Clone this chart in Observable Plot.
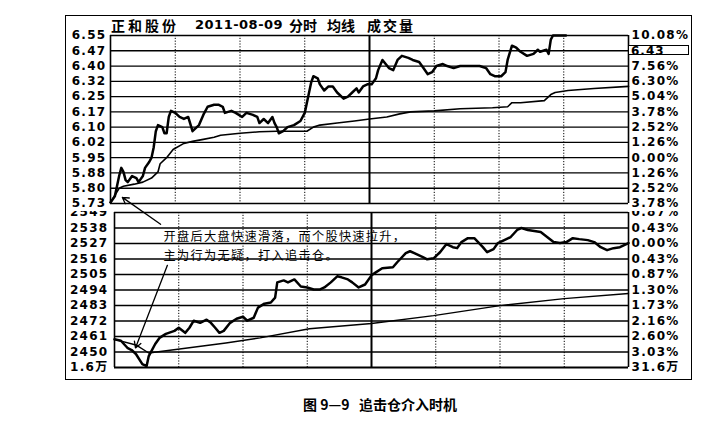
<!DOCTYPE html>
<html><head><meta charset="utf-8">
<script src="https://cdn.jsdelivr.net/npm/d3@7"></script>
<script src="https://cdn.jsdelivr.net/npm/@observablehq/plot@0.6"></script>
<style>
html,body{margin:0;padding:0;background:#fff;}
#wrap{position:relative;width:721px;height:432px;overflow:hidden;}
#frame{position:absolute;left:65px;top:15px;width:625px;height:363px;border:1.5px solid #000;}
#topPlot{position:absolute;left:0;top:0;z-index:3;}
#botPlot{position:absolute;left:0;top:211px;width:721px;height:165px;overflow:hidden;z-index:2;}
svg text{letter-spacing:1.3px;}
.t{position:absolute;top:17px;font:bold 14px/16px "Noto Sans CJK SC","DejaVu Sans",sans-serif;color:#000;white-space:nowrap;z-index:4;}
#box{position:absolute;left:628px;top:45px;width:61px;height:10px;border:1px solid #000;background:#fff;z-index:4;
 font:bold 12px/10px "DejaVu Sans",sans-serif;letter-spacing:1px;padding-left:2px;box-sizing:border-box;}
#caption{position:absolute;left:303px;top:395px;font:bold 14px/18px "Noto Sans CJK SC",sans-serif;white-space:pre;color:#000;}
</style>
</head><body>
<div id="wrap">
  <div id="frame"></div>
  <div id="botPlot"></div>
  <div id="topPlot"></div>
  <span class="t" style="left:111px;letter-spacing:3px">正和股份</span>
  <span class="t" style="left:195px;font-family:'DejaVu Sans';font-size:13px;letter-spacing:0.5px">2011-08-09</span>
  <span class="t" style="left:289px">分时</span>
  <span class="t" style="left:327px">均线</span>
  <span class="t" style="left:367px;letter-spacing:2px">成交量</span>
  <div id="box">6.43</div>
  <div id="caption">图 9—9   追击仓介入时机</div>
</div>
<script>
// ---- stock (正和股份) minute data: minutes after 9:30, price ----
const priceMin = [0,2,3,4,5,6,7,8,10,12,13,15,16,18,19,20,21,22,24,25,26,27,28,30,32,34,36,38,41,43,45,48,50,52,53,56,58,61,63,66,68,69,71,73,75,76,77,78,80,82,85,88,90,91,93,94,96,97,99,101,103,105,108,110,112,114,115,117,119,121,123,124,126,129,131,133,135,138,140,143,145,147,149,151,154,156,159,162,165,168,171,174,176,178,181,183,184,186,188,190,193,196,198,199,202,203,204,205,206,211];
const priceVal = [5.73,5.76,5.81,5.86,5.90,5.88,5.84,5.83,5.86,5.85,5.83,5.86,5.90,5.93,5.95,6.00,6.08,6.11,6.10,6.07,6.07,6.15,6.18,6.17,6.15,6.14,6.15,6.08,6.11,6.16,6.20,6.21,6.21,6.20,6.17,6.18,6.17,6.15,6.17,6.16,6.15,6.12,6.14,6.12,6.15,6.12,6.10,6.07,6.08,6.10,6.11,6.13,6.17,6.22,6.32,6.35,6.34,6.31,6.28,6.30,6.30,6.27,6.24,6.25,6.27,6.29,6.27,6.30,6.31,6.31,6.34,6.38,6.43,6.39,6.38,6.43,6.45,6.44,6.43,6.42,6.39,6.36,6.37,6.40,6.41,6.40,6.39,6.40,6.40,6.40,6.40,6.39,6.36,6.35,6.35,6.37,6.43,6.50,6.49,6.47,6.45,6.46,6.48,6.47,6.48,6.46,6.53,6.55,6.55,6.55];
// average price line
const avgMin = [0,4,6,11,15,19,22,23,26,29,34,38,43,48,51,60,69,77,91,94,97,105,113,120,128,134,139,150,162,177,184,186,190,201,204,206,212,224,240];
const avgVal = [5.73,5.80,5.81,5.82,5.83,5.85,5.88,5.92,5.95,5.99,6.02,6.03,6.04,6.05,6.06,6.07,6.077,6.08,6.08,6.10,6.11,6.12,6.13,6.14,6.15,6.165,6.175,6.18,6.19,6.195,6.20,6.22,6.22,6.23,6.26,6.27,6.28,6.29,6.30];
// ---- market index (lower panel) ----
const idxMin = [0,3,6,8,10,13,15,16,19,21,24,28,30,33,35,37,40,43,45,47,49,51,54,57,60,62,65,67,70,73,75,76,79,81,84,87,90,93,96,98,101,104,106,109,111,114,117,120,122,125,130,132,136,138,140,144,146,149,152,155,158,160,162,165,168,172,174,177,179,182,185,188,190,193,196,199,202,205,208,211,214,217,221,224,227,230,233,236,240];
const idxVal = [2459,2458,2453,2451.4,2448.6,2441.4,2440,2447.1,2455.7,2460,2462.9,2465,2467.2,2463.6,2467.2,2472.2,2470.7,2472.9,2470.7,2467.2,2463.6,2465,2470.7,2473.6,2475,2472.2,2474.3,2481.5,2484.3,2485.1,2488.6,2499.4,2500.8,2499.4,2501.5,2496.5,2495.8,2494.4,2494.4,2495.8,2499.4,2503.7,2503,2501.5,2499.4,2495.8,2497.9,2504.4,2506.5,2509.4,2510.1,2513.7,2520.1,2521.5,2520.1,2517.3,2515.8,2516.5,2520.8,2526.6,2524.4,2523.7,2528,2530.8,2530.8,2524.4,2520.8,2523,2527.3,2529.4,2531.6,2536.6,2538,2536.6,2535.9,2535.1,2531.6,2528,2527.3,2528,2530.8,2530.1,2529.4,2528,2524.4,2522.3,2523.7,2524.4,2527.3];
const idx2Min = [0,10,16,52,68,91,120,149,180,210,240];
const idx2Val = [2459,2455,2449.3,2456.4,2460,2466.5,2470.2,2475.8,2482.9,2487.9,2491.5];

// ---- axes / grid ----
const priceGrid = [6.550,6.475,6.400,6.325,6.250,6.175,6.100,6.025,5.950,5.875,5.800,5.725];
const priceLabels = ["6.55","6.47","6.40","6.32","6.25","6.17","6.10","6.02","5.95","5.88","5.80","5.73"];
const pctLabels = ["10.08%","","7.56%","6.30%","5.04%","3.78%","2.52%","1.26%","0.00%","1.26%","2.52%","3.78%"];
const idxGrid = [2549,2538,2527,2516,2505,2494,2483,2472,2461,2450,2439];
const idxLabels = ["2549","2538","2527","2516","2505","2494","2483","2472","2461","2450","1.6万"];
const idxPctLabels = ["0.87%","0.43%","0.00%","0.43%","0.87%","1.30%","1.73%","2.16%","2.60%","3.03%","31.6万"];
const dotTimes = [30,60,90,150,180,210];
const noonTime = [120];
const edgeTimes = [0,240];

// ---- annotation ----
const noteLines = ["开盘后大盘快速滑落，而个股快速拉升，","主为行为无疑，打入追击仓。"];
const noteMin = [22.9,22.9];
const noteIdx = [2531.6,2518.0];
const arrowTop = [{m1:23.2,p1:5.623,m2:5.5,p2:5.755}];
const arrowBot = [{m1:24.7,v1:2511.5,m2:9.8,v2:2452.9}];

const price = priceMin.map((m,i)=>({m, v: priceVal[i]}));
const avg = avgMin.map((m,i)=>({m, v: avgVal[i]}));
const idx = idxMin.map((m,i)=>({m, v: idxVal[i]}));
const idx2 = idx2Min.map((m,i)=>({m, v: idx2Val[i]}));
const notes = noteLines.map((t,i)=>({t, m: noteMin[i], v: noteIdx[i]}));

const labFont = {fontFamily:"DejaVu Sans, Noto Sans CJK SC", fontWeight:"bold", fontSize:12, fill:"#000"};

const topChart = Plot.plot({
  width: 721, height: 210,
  marginLeft: 110, marginRight: 93, marginTop: 35, marginBottom: 7,
  x: {domain:[0,240], axis:null},
  y: {domain:[5.725,6.55], axis:null},
  style: {background:"none", overflow:"visible"},
  marks: [
    Plot.ruleY(priceGrid, {y:d=>d, stroke:"#000", strokeWidth:1.3}),
    Plot.ruleX(dotTimes, {x:d=>d, stroke:"#000", strokeWidth:1, strokeDasharray:"1.2,1.6"}),
    Plot.ruleX(noonTime, {x:d=>d, stroke:"#000", strokeWidth:2}),
    Plot.ruleX(edgeTimes, {x:d=>d, stroke:"#000", strokeWidth:1.6}),
    Plot.line(avg, {x:"m", y:"v", stroke:"#000", strokeWidth:1.6}),
    Plot.line(price, {x:"m", y:"v", stroke:"#000", strokeWidth:2.5, strokeLinejoin:"round"}),
    Plot.text(priceGrid, {y:d=>d, frameAnchor:"left", text:(d,i)=>priceLabels[i], textAnchor:"end", dx:-4, ...labFont}),
    Plot.text(priceGrid, {y:d=>d, frameAnchor:"right", text:(d,i)=>pctLabels[i], textAnchor:"start", dx:3, ...labFont}),
    Plot.arrow(arrowTop, {x1:"m1", y1:"p1", x2:"m2", y2:"p2", stroke:"#000", strokeWidth:1.3, headLength:8})
  ]
});
document.getElementById("topPlot").append(topChart);

const botChart = Plot.plot({
  width: 721, height: 165,
  marginLeft: 114, marginRight: 93, marginTop: 1, marginBottom: 9,
  x: {domain:[0,240], axis:null},
  y: {domain:[2439,2549], axis:null},
  style: {background:"none", overflow:"visible"},
  marks: [
    Plot.ruleY(idxGrid, {y:d=>d, stroke:"#000", strokeWidth:d=>d===2439?2.2:1.3}),
    Plot.ruleX(dotTimes, {x:d=>d, stroke:"#000", strokeWidth:1, strokeDasharray:"1.2,1.6"}),
    Plot.ruleX(noonTime, {x:d=>d, stroke:"#000", strokeWidth:2}),
    Plot.ruleX(edgeTimes, {x:d=>d, stroke:"#000", strokeWidth:1.6}),
    Plot.line(idx2, {x:"m", y:"v", stroke:"#000", strokeWidth:1.4}),
    Plot.line(idx, {x:"m", y:"v", stroke:"#000", strokeWidth:2.5, strokeLinejoin:"round"}),
    Plot.text(idxGrid, {y:d=>d, frameAnchor:"left", text:(d,i)=>idxLabels[i], textAnchor:"end", dx:-6, ...labFont}),
    Plot.text(idxGrid, {y:d=>d, frameAnchor:"right", text:(d,i)=>idxPctLabels[i], textAnchor:"start", dx:3, ...labFont}),
    Plot.text(notes, {x:"m", y:"v", text:"t", textAnchor:"start", fontFamily:"Noto Sans CJK SC", fontSize:12.2, fill:"#000"}),
    Plot.arrow(arrowBot, {x1:"m1", y1:"v1", x2:"m2", y2:"v2", stroke:"#000", strokeWidth:1.3, headLength:8})
  ]
});
document.getElementById("botPlot").append(botChart);
</script>
</body></html>
